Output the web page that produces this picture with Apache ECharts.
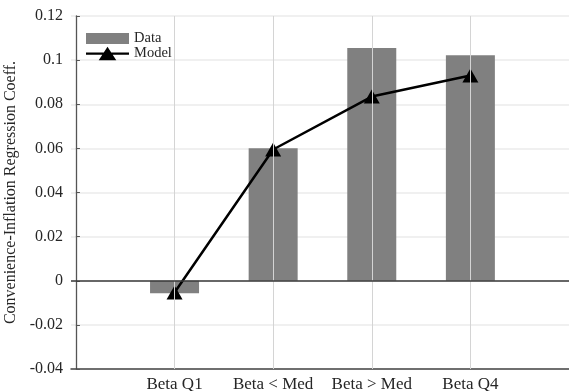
<!DOCTYPE html>
<html>
<head>
<meta charset="utf-8">
<script src="https://cdn.jsdelivr.net/npm/echarts@6/dist/echarts.min.js"></script>
<style>html,body{margin:0;padding:0;background:#fff}#c{width:569px;height:391px}</style>
</head>
<body>
<div id="c"></div>
<script>
const categories = ['Beta Q1', 'Beta < Med', 'Beta > Med', 'Beta Q4'];
const categoryPositions = [1, 2, 3, 4];
const dataValues = [-0.0057, 0.0601, 0.1055, 0.1022];
const modelValues = [-0.0053, 0.0595, 0.0835, 0.0930];
const yMin = -0.04, yMax = 0.12, yStep = 0.02;

const FONT = '"Liberation Serif", "DejaVu Serif", serif';
const TXT = '#262626';
const legendText = {fontFamily: FONT, fontSize: 14.5, color: TXT, lineHeight: 15};
const modelIcon = 'path://M0 5.9L44 5.9L44 8.3L0 8.3Z M13 14L22 0L31 14Z';

const chart = echarts.init(document.getElementById('c'), null, {renderer: 'canvas'});
chart.setOption({
  animation: false,
  backgroundColor: '#fff',
  grid: {left: 71, right: 0, top: 16, bottom: 22, containLabel: false, outerBoundsMode: 'none'},
  legend: [
    {
      orient: 'vertical', left: 86, top: 31, padding: 0, itemWidth: 43, itemHeight: 11,
      textStyle: legendText, data: [{name: 'Data', icon: 'rect'}]
    },
    {
      orient: 'vertical', left: 86, top: 46, padding: 0, itemWidth: 43, itemHeight: 14,
      textStyle: legendText, data: [{name: 'Model', icon: modelIcon}]
    }
  ],
  xAxis: {
    type: 'value', min: -0.05, max: 5,
    axisLine: {show: true, onZero: false, lineStyle: {color: '#444', width: 1.5}},
    axisTick: {show: true, inside: true, length: 4, customValues: categoryPositions, lineStyle: {color: '#444'}},
    axisLabel: {
      customValues: categoryPositions, margin: 7,
      fontFamily: FONT, fontSize: 17, color: TXT,
      formatter: v => categories[Math.round(v) - 1] || ''
    },
    splitLine: {show: false}
  },
  yAxis: {
    type: 'value', min: yMin, max: yMax, interval: yStep,
    name: 'Convenience-Inflation Regression Coeff.', nameLocation: 'middle', nameGap: 49,
    nameTextStyle: {fontFamily: FONT, fontSize: 16, color: TXT},
    axisLine: {show: true, lineStyle: {color: '#555', width: 1.3}},
    axisTick: {show: true, inside: true, length: 4, lineStyle: {color: '#555'}},
    axisLabel: {margin: 8, fontFamily: FONT, fontSize: 16, color: TXT},
    splitLine: {show: true, lineStyle: {color: '#ebebeb', width: 1.5}}
  },
  series: [
    {
      type: 'line', name: '_grid', data: [], z: 1, silent: true,
      markLine: {
        silent: true, symbol: 'none', label: {show: false},
        lineStyle: {color: '#d4d4d4', width: 1, type: 'solid'},
        data: categoryPositions.map(p => ({xAxis: p}))
      }
    },
    {
      type: 'bar', name: 'Data', z: 2, barWidth: 49,
      itemStyle: {color: '#808080'},
      data: categoryPositions.map((p, i) => [p, dataValues[i]]),
      markLine: {
        silent: true, symbol: 'none', label: {show: false},
        lineStyle: {color: '#3a3a3a', width: 1.5, type: 'solid'},
        data: [{yAxis: 0}]
      }
    },
    {
      type: 'line', name: 'Model', z: 3,
      symbol: 'triangle', symbolSize: [16, 14],
      lineStyle: {color: '#000', width: 2.5},
      itemStyle: {color: '#000'},
      data: categoryPositions.map((p, i) => [p, modelValues[i]])
    }
  ]
});
</script>
</body>
</html>
